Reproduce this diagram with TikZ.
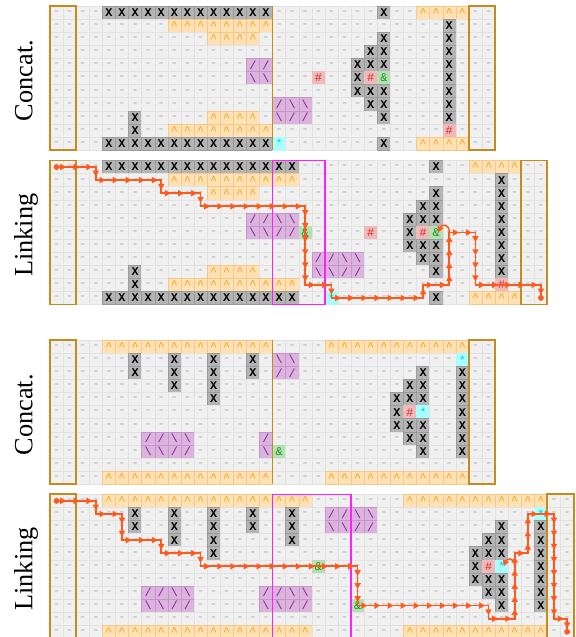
\documentclass[tikz,border=0pt]{standalone}
\usepackage{fontspec}
\setmainfont{Liberation Serif}
\newfontfamily\tilefont{Liberation Mono}
\usetikzlibrary{arrows.meta,decorations.markings}

\definecolor{emptyfill}{HTML}{F0F0F0}
\definecolor{emptyline}{HTML}{E2E2E2}
\definecolor{dashgray}{HTML}{C6C6C6}
\definecolor{blockfill}{HTML}{B4B4B4}
\definecolor{blockline}{HTML}{9A9A9A}
\definecolor{upfill}{HTML}{FFE1B3}
\definecolor{upline}{HTML}{F5C889}
\definecolor{uptext}{HTML}{F2A01E}
\definecolor{pipefill}{HTML}{DAB4DC}
\definecolor{pipeline}{HTML}{C696CA}
\definecolor{pipetext}{HTML}{8A1C9A}
\definecolor{hashfill}{HTML}{F0BABA}
\definecolor{hashtext}{HTML}{D42A2A}
\definecolor{ampfill}{HTML}{B4E0B4}
\definecolor{amptext}{HTML}{1E961E}
\definecolor{starfill}{HTML}{A8FFFF}
\definecolor{startext}{HTML}{00D2E6}
\definecolor{framegold}{HTML}{C48C1E}
\definecolor{linkpink}{HTML}{FF1EFF}
\definecolor{routeorange}{HTML}{FF5A1E}

\tikzset{cell/.style={rectangle, minimum size=0.35cm, inner sep=0pt, outer sep=0pt,
  line width=0.3pt, font=\tilefont\fontsize{9}{9}\selectfont}}
\tikzset{gap/.style={cell, fill=emptyfill, draw=emptyline, text=dashgray, font=\tilefont\bfseries\fontsize{9}{9}\selectfont}}
\tikzset{block/.style={cell, fill=blockfill, draw=blockline, text=black, font=\tilefont\bfseries\fontsize{9}{9}\selectfont}}
\tikzset{bump/.style={cell, fill=upfill, draw=upline, text=uptext}}
\tikzset{pipe/.style={cell, fill=pipefill, draw=pipeline, text=pipetext}}
\tikzset{hashtile/.style={cell, fill=hashfill, draw=hashfill, text=hashtext}}
\tikzset{amptile/.style={cell, fill=ampfill, draw=ampfill, text=amptext}}
\tikzset{startile/.style={cell, fill=starfill, draw=starfill, text=startext}}
\tikzset{levelframe/.style={draw=framegold, line width=1.5pt}}
\tikzset{seam/.style={draw=framegold, line width=1.1pt}}
\tikzset{linkbox/.style={draw=linkpink, line width=1pt}}
\tikzset{route/.style={color=routeorange, line width=1.3pt, postaction={decorate},
  decoration={markings, mark=between positions 0.26cm and 1 step 0.35cm
  with {\arrow{Triangle[length=4.6pt,width=4.6pt]}}}}}
\tikzset{curl/.style={color=routeorange, line width=1.1pt, -{Triangle[length=4.6pt,width=4.6pt]}}}
\tikzset{dot/.style={circle, fill=routeorange, inner sep=0pt, minimum size=4.4pt}}
\tikzset{tag/.style={rotate=90, anchor=base, font=\fontsize{20}{24}\selectfont}}

% one tile per character: - X o(^) l(/) r(\) h(#) a(&) s(*)
\makeatletter
\expandafter\def\csname tile@-\endcsname{\node[gap] (\lvl-\lx-\lrow) at (\lx,\lrow) {-};}
\expandafter\def\csname tile@X\endcsname{\node[block] (\lvl-\lx-\lrow) at (\lx,\lrow) {X};}
\expandafter\def\csname tile@o\endcsname{\node[bump] (\lvl-\lx-\lrow) at (\lx,\lrow) {\textasciicircum};}
\expandafter\def\csname tile@l\endcsname{\node[pipe] (\lvl-\lx-\lrow) at (\lx,\lrow) {/};}
\expandafter\def\csname tile@r\endcsname{\node[pipe] (\lvl-\lx-\lrow) at (\lx,\lrow) {\textbackslash};}
\expandafter\def\csname tile@h\endcsname{\node[hashtile] (\lvl-\lx-\lrow) at (\lx,\lrow) {\#};}
\expandafter\def\csname tile@a\endcsname{\node[amptile] (\lvl-\lx-\lrow) at (\lx,\lrow) {\&};}
\expandafter\def\csname tile@s\endcsname{\node[startile] (\lvl-\lx-\lrow) at (\lx,\lrow) {*};}
\newcommand\tilerow[2]{\def\lrow{#1}\def\lx{0}%
  \@tfor\ch:=#2\do{\csname tile@\ch\endcsname
    \pgfmathtruncatemacro\lx{\lx+1}}}
\makeatother

\begin{document}
\begin{tikzpicture}[x=0.35cm,y=-0.35cm]
  \useasboundingbox (-4.32,-0.96) rectangle (39.61,47.70);

  % Concat. (top)
  \begin{scope}
    \def\lvl{ct}
    \tilerow{0}{----XXXXXXXXXXXXX --------X--oooo--}
    \tilerow{1}{---------oooooooo -------------X---}
    \tilerow{2}{------------oooo- --------X----X---}
    \tilerow{3}{----------------- -------XX----X---}
    \tilerow{4}{---------------ll ------XXX----X---}
    \tilerow{5}{---------------rr ---h--Xha----X---}
    \tilerow{6}{----------------- ------XXX----X---}
    \tilerow{7}{----------------- lrr----XX----X---}
    \tilerow{8}{------X-----oooo- rll-----X----X---}
    \tilerow{9}{------X--oooooooo -------------h---}
    \tilerow{10}{----XXXXXXXXXXXXX s-------X--oooo--}
    \draw[levelframe] (ct-0-0.north west) rectangle (ct-1-10.south east);
    \draw[levelframe] (ct-32-0.north west) rectangle (ct-33-10.south east);
    \draw[seam] (ct-16-0.north east) -- (ct-16-10.south east);
    \node[tag] (tagct) at (-1.85,5.2) {Concat.};
  \end{scope}

  % Linking (top)
  \begin{scope}[shift={(0,11.8)}]
    \def\lvl{lt}
    \tilerow{0}{----XXXXXXXXXXXXX XX-- --------X--oooo--}
    \tilerow{1}{---------oooooooo oo-- -------------X---}
    \tilerow{2}{------------oooo- ---- --------X----X---}
    \tilerow{3}{----------------- ---- -------XX----X---}
    \tilerow{4}{---------------ll rr-- ------XXX----X---}
    \tilerow{5}{---------------rr lla- ---h--Xha----X---}
    \tilerow{6}{----------------- ---- ------XXX----X---}
    \tilerow{7}{----------------- ---l lrr----XX----X---}
    \tilerow{8}{------X-----oooo- ---r rll-----X----X---}
    \tilerow{9}{------X--oooooooo oo-- -------------h---}
    \tilerow{10}{----XXXXXXXXXXXXX XX-- s-------X--oooo--}
    \draw[levelframe] (lt-0-0.north west) rectangle (lt-1-10.south east);
    \draw[levelframe] (lt-36-0.north west) rectangle (lt-37-10.south east);
    \draw[linkbox] (lt-17-0.north west) rectangle (lt-20-10.south east);
    \node[tag] (taglt) at (-1.85,5.2) {Linking};
  \end{scope}
  \node[dot] (startlt) at (lt-0-0.center) {};
  \node[dot] (endlt) at (lt-37-10.center) {};
  \draw[route] (startlt.center) -- (lt-3-0.center) -- (lt-3-1.center) -- (lt-8-1.center)
    -- (lt-8-2.center) -- (lt-11-2.center) -- (lt-11-3.center) -- (lt-19-3.center)
    -- (lt-19-9.center) -- (lt-21-9.center) -- (lt-21-10.center) -- (lt-28-10.center)
    -- (lt-28-9.center) -- (lt-30-9.center) -- (lt-30-5.center) -- (lt-32-5.center)
    -- (lt-32-9.center) -- (lt-37-9.center) -- (endlt.center);
  \draw[curl] (lt-30-5.center) .. controls +(0,-0.75) and +(0.25,-0.6) .. ([xshift=1.5pt]lt-29-5.center);

  % Concat. (bottom)
  \begin{scope}[shift={(0,25.52)}]
    \def\lvl{cb}
    \tilerow{0}{----ooooooooooooo ----ooooooooooo--}
    \tilerow{1}{------X--X--X--X- rr------------s--}
    \tilerow{2}{------X--X--X--X- ll---------X--X--}
    \tilerow{3}{---------X--X---- ----------XX--X--}
    \tilerow{4}{------------X---- ---------XXX--X--}
    \tilerow{5}{----------------- ---------Xhs--X--}
    \tilerow{6}{----------------- ---------XXX--X--}
    \tilerow{7}{-------llrr-----l ----------XX--X--}
    \tilerow{8}{-------rrll-----r a----------X--X--}
    \tilerow{9}{----------------- -----------------}
    \tilerow{10}{----ooooooooooooo ----ooooooooooo--}
    \draw[levelframe] (cb-0-0.north west) rectangle (cb-1-10.south east);
    \draw[levelframe] (cb-32-0.north west) rectangle (cb-33-10.south east);
    \draw[seam] (cb-16-0.north east) -- (cb-16-10.south east);
    \node[tag] (tagcb) at (-1.85,5.2) {Concat.};
  \end{scope}

  % Linking (bottom)
  \begin{scope}[shift={(0,37.3)}]
    \def\lvl{lb}
    \tilerow{0}{----ooooooooooooo ooo--- ----ooooooooooo--}
    \tilerow{1}{------X--X--X--X- -X--ll rr------------s--}
    \tilerow{2}{------X--X--X--X- -X--rr ll---------X--X--}
    \tilerow{3}{---------X--X---- -X---- ----------XX--X--}
    \tilerow{4}{------------X---- ------ ---------XXX--X--}
    \tilerow{5}{----------------- ---a-- ---------Xhs--X--}
    \tilerow{6}{----------------- ------ ---------XXX--X--}
    \tilerow{7}{-------llrr-----l lrr--- ----------XX--X--}
    \tilerow{8}{-------rrll-----r rll--- a----------X--X--}
    \tilerow{9}{----------------- ------ -----------------}
    \tilerow{10}{----ooooooooooooo ooo--- ----ooooooooooo--}
    \draw[levelframe] (lb-0-0.north west) rectangle (lb-1-10.south east);
    \draw[levelframe] (lb-38-0.north west) rectangle (lb-39-10.south east);
    \draw[linkbox] (lb-17-0.north west) rectangle (lb-22-10.south east);
    \node[tag] (taglb) at (-1.85,5.2) {Linking};
  \end{scope}
  \node[dot] (startlb) at (lb-0-0.center) {};
  \node[dot] (endlb) at (lb-39-10.center) {};
  \draw[route] (startlb.center) -- (lb-3-0.center) -- (lb-3-1.center) -- (lb-5-1.center)
    -- (lb-5-3.center) -- (lb-8-3.center) -- (lb-8-4.center) -- (lb-11-4.center)
    -- (lb-11-5.center) -- (lb-23-5.center) -- (lb-23-8.center) -- (lb-33-8.center)
    -- (lb-33-9.center) -- (lb-35-9.center) -- (lb-35-4.center) -- (lb-36-4.center)
    -- (lb-36-1.center) -- (lb-38-1.center) -- (lb-38-9.center) -- (lb-39-9.center)
    -- (endlb.center);
  \draw[curl] (lb-35-5.center) .. controls +(0,-0.75) and +(0.25,-0.6) .. ([xshift=1.5pt]lb-34-5.center);
\end{tikzpicture}
\end{document}
